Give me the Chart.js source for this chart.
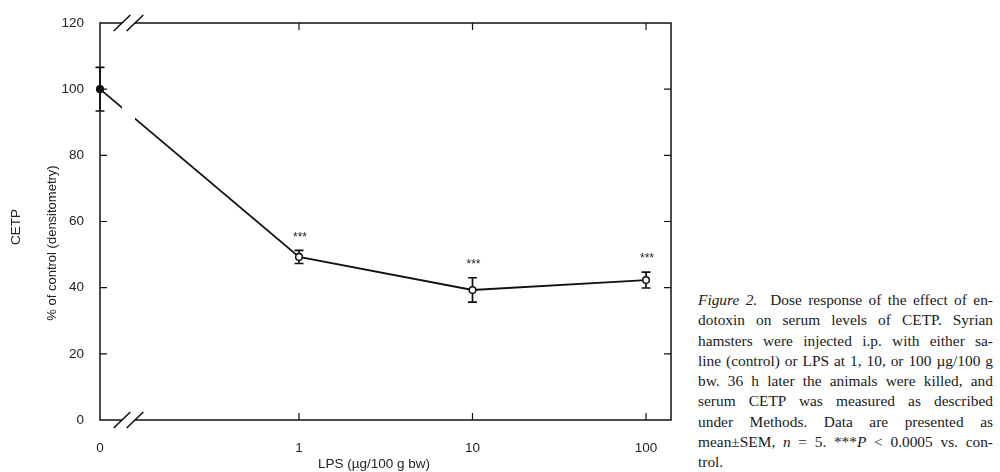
<!DOCTYPE html>
<html>
<head>
<meta charset="utf-8">
<script src="https://cdn.jsdelivr.net/npm/chart.js@4"></script>
<style>
  body { margin: 0; background: #fff; width: 1000px; height: 472px; overflow: hidden; position: relative; }
  #wrap { position: absolute; left: 0; top: 0; width: 690px; height: 472px; }
  #caption { position: absolute; left: 698px; top: 290px; width: 295px;
    font-family: "Liberation Serif", "DejaVu Serif", serif; font-size: 15.4px; line-height: 20.3px; color: #1a1a1a; }
  #caption div { white-space: nowrap; text-align: justify; text-align-last: justify; }
  #caption div.last { text-align-last: left; }
</style>
</head>
<body>
<div id="wrap"><canvas id="chart" width="690" height="472"></canvas></div>
<div id="caption">
  <div><i>Figure 2.</i>&nbsp; Dose response of the effect of en-</div>
  <div>dotoxin on serum levels of CETP. Syrian</div>
  <div>hamsters were injected i.p. with either sa-</div>
  <div>line (control) or LPS at 1, 10, or 100 µg/100 g</div>
  <div>bw. 36 h later the animals were killed, and</div>
  <div>serum CETP was measured as described</div>
  <div>under Methods. Data are presented as</div>
  <div>mean±SEM, <i>n</i> = 5. ***<i>P</i> &lt; 0.0005 vs. con-</div>
  <div class="last">trol.</div>
</div>
<script>
// dose response data
const doses = [0, 1, 10, 100];
const xTickLabels = ["0", "1", "10", "100"];
const cetp = [100, 49.3, 39.3, 42.3];
const sem = [6.6, 2.0, 3.7, 2.4];
const stars = ["", "***", "***", "***"];
const yTicks = [0, 20, 40, 60, 80, 100, 120];

// log axis span; the control (dose 0) sits on the left edge, behind the axis break
const X_MIN = 0.0713;
const X_MAX = 139.3;
const toAxis = (d) => (d === 0 ? X_MIN : d);

const INK = "#111";
const FONT = "'Liberation Sans', Arial, sans-serif";

const framePlugin = {
  id: "frame",
  beforeDatasetsDraw(chart) {
    const { ctx, chartArea: a, scales: { x, y } } = chart;
    ctx.save();
    ctx.strokeStyle = INK;
    ctx.lineWidth = 1.5;
    ctx.strokeRect(a.left, a.top, a.right - a.left, a.bottom - a.top);

    // inward ticks
    ctx.lineWidth = 1.2;
    ctx.beginPath();
    yTicks.slice(1, -1).forEach((v) => {
      const py = y.getPixelForValue(v);
      ctx.moveTo(a.left, py); ctx.lineTo(a.left + 7, py);
      ctx.moveTo(a.right, py); ctx.lineTo(a.right - 7, py);
    });
    doses.slice(1).forEach((d) => {
      const px = x.getPixelForValue(d);
      ctx.moveTo(px, a.bottom); ctx.lineTo(px, a.bottom - 7);
      ctx.moveTo(px, a.top); ctx.lineTo(px, a.top + 7);
    });
    ctx.stroke();

    // error bars (points are drawn over them)
    ctx.lineWidth = 1.7;
    const meta = chart.getDatasetMeta(0);
    meta.data.forEach((pt, i) => {
      const hi = y.getPixelForValue(cetp[i] + sem[i]);
      const lo = y.getPixelForValue(cetp[i] - sem[i]);
      ctx.beginPath();
      ctx.moveTo(pt.x, hi); ctx.lineTo(pt.x, lo);
      ctx.moveTo(pt.x - 4.5, hi); ctx.lineTo(pt.x + 4.5, hi);
      ctx.moveTo(pt.x - 4.5, lo); ctx.lineTo(pt.x + 4.5, lo);
      ctx.stroke();
    });
    ctx.restore();
  },
  afterDatasetsDraw(chart) {
    const { ctx, chartArea: a, scales: { y } } = chart;
    ctx.save();
    // axis break: clear a strip, then the double slashes top and bottom
    const b1 = a.left + 22, b2 = a.left + 35;
    ctx.fillStyle = "#fff";
    ctx.fillRect(b1, a.top - 1, b2 - b1, a.bottom - a.top + 2);
    ctx.strokeStyle = INK;
    ctx.lineWidth = 1.6;
    ctx.beginPath();
    [a.top, a.bottom].forEach((ay) => {
      [b1, b2].forEach((bx) => {
        ctx.moveTo(bx - 8.3, ay + 8); ctx.lineTo(bx + 8.3, ay - 8);
      });
    });
    ctx.stroke();

    // significance stars
    ctx.fillStyle = "#222";
    ctx.font = "12px " + FONT;
    ctx.textAlign = "center";
    ctx.textBaseline = "middle";
    const meta = chart.getDatasetMeta(0);
    meta.data.forEach((pt, i) => {
      if (!stars[i]) return;
      ctx.fillText(stars[i], pt.x + 1, y.getPixelForValue(cetp[i] + sem[i]) - 13);
    });

    // axis titles
    ctx.fillStyle = "#222";
    ctx.font = "13.5px " + FONT;
    ctx.fillText("LPS (µg/100 g bw)", 374, 464);
    ctx.save();
    ctx.translate(16, 227);
    ctx.rotate(-Math.PI / 2);
    ctx.fillText("CETP", 0, 0);
    ctx.restore();
    ctx.save();
    ctx.translate(52, 243);
    ctx.rotate(-Math.PI / 2);
    ctx.font = "13px " + FONT;
    ctx.fillText("% of control (densitometry)", 0, 0);
    ctx.restore();
    ctx.restore();
  },
};

const points = doses.map((d, i) => ({ x: toAxis(d), y: cetp[i] }));

new Chart(document.getElementById("chart").getContext("2d"), {
  type: "line",
  data: {
    datasets: [
      {
        data: points,
        borderColor: INK,
        borderWidth: 1.8,
        tension: 0,
        clip: false,
        pointRadius: 3.3,
        pointBorderWidth: 1.5,
        pointBorderColor: INK,
        pointBackgroundColor: (c) => (c.dataIndex === 0 ? INK : "#fff"),
      },
    ],
  },
  options: {
    responsive: false,
    animation: false,
    layout: { padding: { top: 23, right: 19, left: 0, bottom: 0 } },
    plugins: { legend: { display: false }, tooltip: { enabled: false } },
    scales: {
      x: {
        type: "logarithmic",
        min: X_MIN,
        max: X_MAX,
        grid: { display: false },
        border: { display: false },
        afterBuildTicks: (s) => {
          s.ticks = doses.map((d) => ({ value: toAxis(d) }));
        },
        afterFit: (s) => {
          s.height = 52;
        },
        ticks: {
          callback: (v, i) => xTickLabels[i],
          autoSkip: false,
          maxRotation: 0,
          padding: 12,
          color: "#222",
          font: { family: FONT, size: 13.5 },
        },
      },
      y: {
        min: 0,
        max: 120,
        grid: { display: false },
        border: { display: false },
        afterBuildTicks: (s) => {
          s.ticks = yTicks.map((v) => ({ value: v }));
        },
        afterFit: (s) => {
          s.width = 100;
        },
        ticks: {
          padding: 8,
          color: "#222",
          font: { family: FONT, size: 13.5 },
        },
      },
    },
  },
  plugins: [framePlugin],
});
</script>
</body>
</html>
